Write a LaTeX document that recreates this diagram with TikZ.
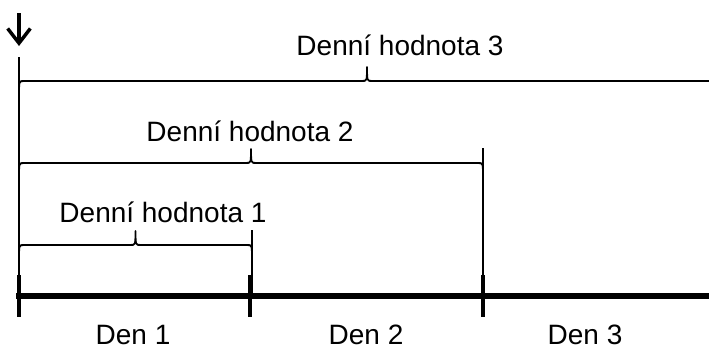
\documentclass[tikz,border=0pt]{standalone}
\usepackage{fontspec}
\setmainfont{Liberation Sans}
\usetikzlibrary{arrows.meta}
\begin{document}
\begin{tikzpicture}[x=0.75pt,y=-0.75pt,
  axisline/.style={line width=3.8pt},
  tick/.style={line width=3pt},
  thin/.style={line width=1.4pt},
  lbl/.style={anchor=base,inner sep=0pt,font=\fontsize{21}{25}\selectfont}]
\useasboundingbox (0,0) rectangle (709,351);
% brace command: left x, right x, y
\newcommand{\mybrace}[3]{%
  \pgfmathsetmacro{\xm}{(#1+#2)/2}%
  \draw[thin,line join=round]
    (#1,#3+13) .. controls (#1,#3) .. (#1+5,#3)
    -- (\xm-5,#3) .. controls (\xm,#3) .. (\xm,#3-14)
    .. controls (\xm,#3) .. (\xm+5,#3)
    -- (#2-5,#3) .. controls (#2,#3) .. (#2,#3+13);}
% axis
\coordinate (a0) at (16,296);
\coordinate (a1) at (712,296);
\draw[axisline] (a0) -- (a1);
% ticks
\foreach \x/\n in {19/t0,250/t1,483/t2}{
  \coordinate (\n top) at (\x,275);
  \coordinate (\n bot) at (\x,317);
  \draw[tick] (\n top) -- (\n bot);
}
% verticals
\coordinate (v0) at (19,57);
\coordinate (v1) at (483,148);
\coordinate (v2) at (252,230);
\draw[thin] (v0) -- (19,296);
\draw[thin] (v1) -- (483,296);
\draw[thin] (v2) -- (252,296);
% braces
\mybrace{19}{715}{81}
\mybrace{19}{483}{163}
\mybrace{19}{252}{245}
% labels
\node[lbl] (h3) at (400,55) {Denní hodnota 3};
\node[lbl] (h2) at (250,141) {Denní hodnota 2};
\node[lbl] (h1) at (163,222) {Denní hodnota 1};
\node[lbl] (d1) at (133,344) {Den 1};
\node[lbl] (d2) at (366,344) {Den 2};
\node[lbl] (d3) at (585,344) {Den 3};
% arrow
\coordinate (ar0) at (19,13);
\coordinate (ar1) at (19,46);
\draw[line width=2.6pt,-{Straight Barb[length=11pt,width=17pt,line width=2.6pt]}] (ar0) -- (ar1);
\end{tikzpicture}
\end{document}
